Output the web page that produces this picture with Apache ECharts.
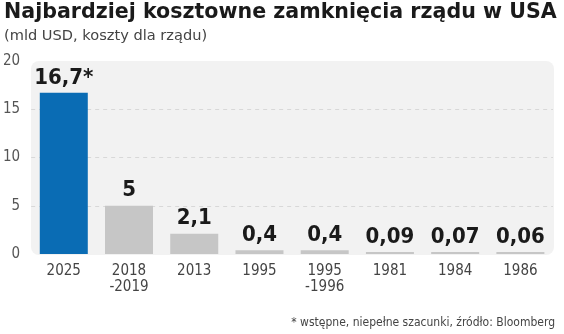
<!DOCTYPE html>
<html><head><meta charset="utf-8">
<script src="https://cdn.jsdelivr.net/npm/echarts@6/dist/echarts.min.js"></script>
<style>html,body{margin:0;padding:0;background:#fff}#c{width:564px;height:334px}</style>
</head><body><div id="c"></div>
<script>
const categories = ['2025', '2018\n-2019', '2013', '1995', '1995\n-1996', '1981', '1984', '1986'];
const values = [16.7, 5, 2.1, 0.4, 0.4, 0.09, 0.07, 0.06];
const notes = ['*', '', '', '', '', '', '', ''];
const yTicks = [0, 5, 10, 15, 20];
const highlightColor = '#0a6cb4';
const baseColor = '#c6c6c6';

const chart = echarts.init(document.getElementById('c'), null, {renderer: 'canvas'});
const F = '"DejaVu Sans Condensed", sans-serif';
const FT = '"DejaVu Sans", sans-serif';
chart.setOption({
  animation: false,
  backgroundColor: '#fff',
  title: [
    {text: 'Najbardziej kosztowne zamknięcia rządu w USA', left: 4, top: 2, padding: 0,
     textStyle: {fontFamily: FT, fontWeight: 'bold', fontSize: 20.6, color: '#1a1a1a'}},
    {text: '(mld USD, koszty dla rządu)', left: 4, top: 29, padding: 0,
     textStyle: {fontFamily: FT, fontWeight: 'normal', fontSize: 14.6, color: '#444'}},
    {text: '* wstępne, niepełne szacunki, źródło: Bloomberg', right: 9, top: 317, padding: 0,
     textStyle: {fontFamily: F, fontWeight: 'normal', fontSize: 12, color: '#444'}}
  ],
  graphic: [{type: 'rect', left: 31, top: 61, z: -10,
    shape: {width: 523, height: 194, r: 8}, style: {fill: '#f2f2f2'}}],
  grid: {left: 31, right: 11, top: 61, bottom: 80},
  xAxis: {type: 'category', data: categories,
    axisLine: {show: false}, axisTick: {show: false},
    axisLabel: {fontFamily: F, fontSize: 15, color: '#444', margin: 9, lineHeight: 16}},
  yAxis: {type: 'value', min: 0, max: 20, interval: 5,
    axisLine: {show: false}, axisTick: {show: false},
    axisLabel: {fontFamily: F, fontSize: 15, color: '#555', margin: 11,
      formatter: v => yTicks.includes(v) ? String(v) : ''},
    splitLine: {show: true, showMinLine: false, showMaxLine: false,
      lineStyle: {type: [4, 4], color: '#d8d8d8', width: 1}}},
  series: [{type: 'bar', barWidth: 48, barMinHeight: 2,
    data: values.map((v, i) => ({value: v, itemStyle: {color: i === 0 ? highlightColor : baseColor}})),
    label: {show: true, position: 'top', distance: 4, fontFamily: F, fontWeight: 'bold', fontSize: 22, color: '#1a1a1a',
      formatter: p => String(values[p.dataIndex]).replace('.', ',') + notes[p.dataIndex]}}]
});
</script></body></html>
